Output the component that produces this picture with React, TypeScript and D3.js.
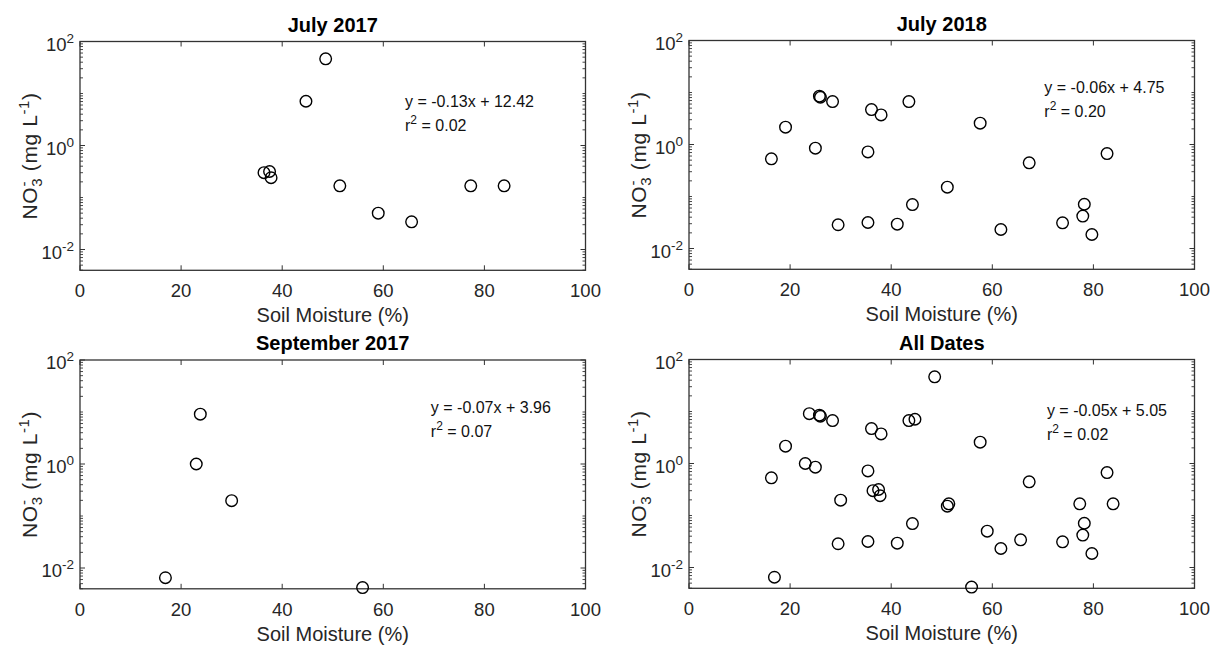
import React from "react";
import * as d3 from "d3";

// ---- data ----
const july2017X = [48.6, 44.7, 36.4, 37.5, 37.8, 51.4, 59.0, 65.6, 77.3, 83.9];
const july2017Y = [46.5, 7.1, 0.3, 0.316, 0.24, 0.168, 0.05, 0.034, 0.168, 0.168];

const july2018X = [16.3, 19.1, 25.0, 25.8, 26.0, 28.4, 29.5, 35.4, 35.4, 36.1, 38.0, 41.2, 43.5, 44.2, 51.1, 57.6, 61.7, 67.3, 73.9, 77.9, 78.2, 79.7, 82.7];
const july2018Y = [0.53, 2.15, 0.85, 8.5, 8.1, 6.7, 0.0286, 0.0316, 0.72, 4.7, 3.7, 0.0294, 6.7, 0.07, 0.151, 2.57, 0.0232, 0.444, 0.0312, 0.042, 0.071, 0.0186, 0.67];

const sept2017X = [23.8, 23.0, 30.0, 16.9, 55.9];
const sept2017Y = [9.1, 1.0, 0.197, 0.0065, 0.0042];

const allX = [...july2017X, ...july2018X, ...sept2017X];
const allY = [...july2017Y, ...july2018Y, ...sept2017Y];

const titles = ["July 2017", "July 2018", "September 2017", "All Dates"];
const eqTexts = ["y = -0.13x + 12.42", "y = -0.06x + 4.75", "y = -0.07x + 3.96", "y = -0.05x + 5.05"];
const r2Texts = ["0.02", "0.20", "0.07", "0.02"];
const eqPosX = [64.3, 70.3, 69.4, 70.8];
const eqPosY = [5.6, 10.0, 9.7, 8.3];

const xTicks = [0, 20, 40, 60, 80, 100];
const yTickExps = [-2, 0, 2];
const xDomain = [0, 100];
const yDomain = [Math.pow(10, -2.4), 100];

const panels = [
  { left: 80, top: 41.5, xs: july2017X, ys: july2017Y },
  { left: 689, top: 40.5, xs: july2018X, ys: july2018Y },
  { left: 80, top: 360, xs: sept2017X, ys: sept2017Y },
  { left: 689, top: 359.5, xs: allX, ys: allY },
];

const W = 505.5;
const H = 228.8;
const AX = "#333333";
const TXT = "#262626";
const FONT = "Arial, 'Liberation Sans', Helvetica, sans-serif";

function Panel({ idx, left, top, xs, ys }: any) {
  const x = d3.scaleLinear().domain(xDomain).range([left, left + W]);
  const y = d3.scaleLog().domain(yDomain).range([top + H, top]);
  const bottom = top + H;
  const minor: number[] = [];
  for (let e = -3; e <= 2; e++) {
    for (let m = 1; m <= 9; m++) {
      const v = m * Math.pow(10, e);
      if (v < yDomain[0] || v > yDomain[1]) continue;
      if (m === 1 && e % 2 === 0) continue;
      minor.push(v);
    }
  }
  return (
    <g>
      <text x={left + W / 2} y={top - 10} textAnchor="middle" fontFamily={FONT} fontWeight="bold" fontSize={20} fill="#000">
        {titles[idx]}
      </text>
      <rect x={left} y={top} width={W} height={H} fill="white" stroke={AX} strokeWidth={1.3} />
      {xTicks.map((t) => (
        <g key={"xt" + t}>
          <line x1={x(t)} x2={x(t)} y1={bottom} y2={bottom - 5} stroke={AX} strokeWidth={1} />
          <line x1={x(t)} x2={x(t)} y1={top} y2={top + 5} stroke={AX} strokeWidth={1} />
          <text x={x(t)} y={bottom + 27} textAnchor="middle" fontFamily={FONT} fontSize={18.5} fill={TXT}>
            {t}
          </text>
        </g>
      ))}
      {minor.map((v, i) => (
        <g key={"mn" + i}>
          <line x1={left} x2={left + 3} y1={y(v)} y2={y(v)} stroke={AX} strokeWidth={0.9} />
          <line x1={left + W} x2={left + W - 3} y1={y(v)} y2={y(v)} stroke={AX} strokeWidth={0.9} />
        </g>
      ))}
      {yTickExps.map((e) => {
        const v = Math.pow(10, e);
        return (
          <g key={"yt" + e}>
            <line x1={left} x2={left + 5} y1={y(v)} y2={y(v)} stroke={AX} strokeWidth={1} />
            <line x1={left + W} x2={left + W - 5} y1={y(v)} y2={y(v)} stroke={AX} strokeWidth={1} />
            <text x={left - 6} y={y(v) + 9} textAnchor="end" fontFamily={FONT} fontSize={18.5} fill={TXT}>
              <tspan>10</tspan>
              <tspan dy={-8} fontSize={13.5}>{String(e)}</tspan>
            </text>
          </g>
        );
      })}
      <text x={left + W / 2} y={bottom + 52} textAnchor="middle" fontFamily={FONT} fontSize={20} fill={TXT}>
        Soil Moisture (%)
      </text>
      <text
        transform={`translate(${left - 43},${top + H / 2}) rotate(-90)`}
        textAnchor="middle"
        fontFamily={FONT}
        fontSize={21}
        letterSpacing={0.6}
        fill={TXT}
        style={{ whiteSpace: "pre" }}
      >
        <tspan>NO</tspan>
        <tspan dy={5} fontSize={15}>3</tspan>
        <tspan dx={-8.8} dy={-13} fontSize={15}>-</tspan>
        <tspan dx={3.4} dy={8}>{" (mg L"}</tspan>
        <tspan dy={-8} fontSize={15}>-1</tspan>
        <tspan dy={8}>)</tspan>
      </text>
      <text x={x(eqPosX[idx])} y={y(eqPosY[idx])} fontFamily={FONT} fontSize={16} fill="#111" style={{ whiteSpace: "pre" }}>
        {eqTexts[idx]}
      </text>
      <text x={x(eqPosX[idx])} y={y(eqPosY[idx]) + 24} fontFamily={FONT} fontSize={16} fill="#111" style={{ whiteSpace: "pre" }}>
        <tspan>r</tspan>
        <tspan dy={-7} fontSize={12}>2</tspan>
        <tspan dy={7}>{" = " + r2Texts[idx]}</tspan>
      </text>
      {xs.map((xv: number, i: number) => (
        <circle key={"p" + i} cx={x(xv)} cy={y(ys[i])} r={5.8} fill="none" stroke="#000" strokeWidth={1.4} />
      ))}
    </g>
  );
}

export default function App() {
  return (
    <svg width={1212} height={647} style={{ position: "absolute", left: 0, top: 0, background: "white" }}>
      <rect x={0} y={0} width={1212} height={647} fill="white" />
      {panels.map((p, i) => (
        <Panel key={i} idx={i} {...p} />
      ))}
    </svg>
  );
}
